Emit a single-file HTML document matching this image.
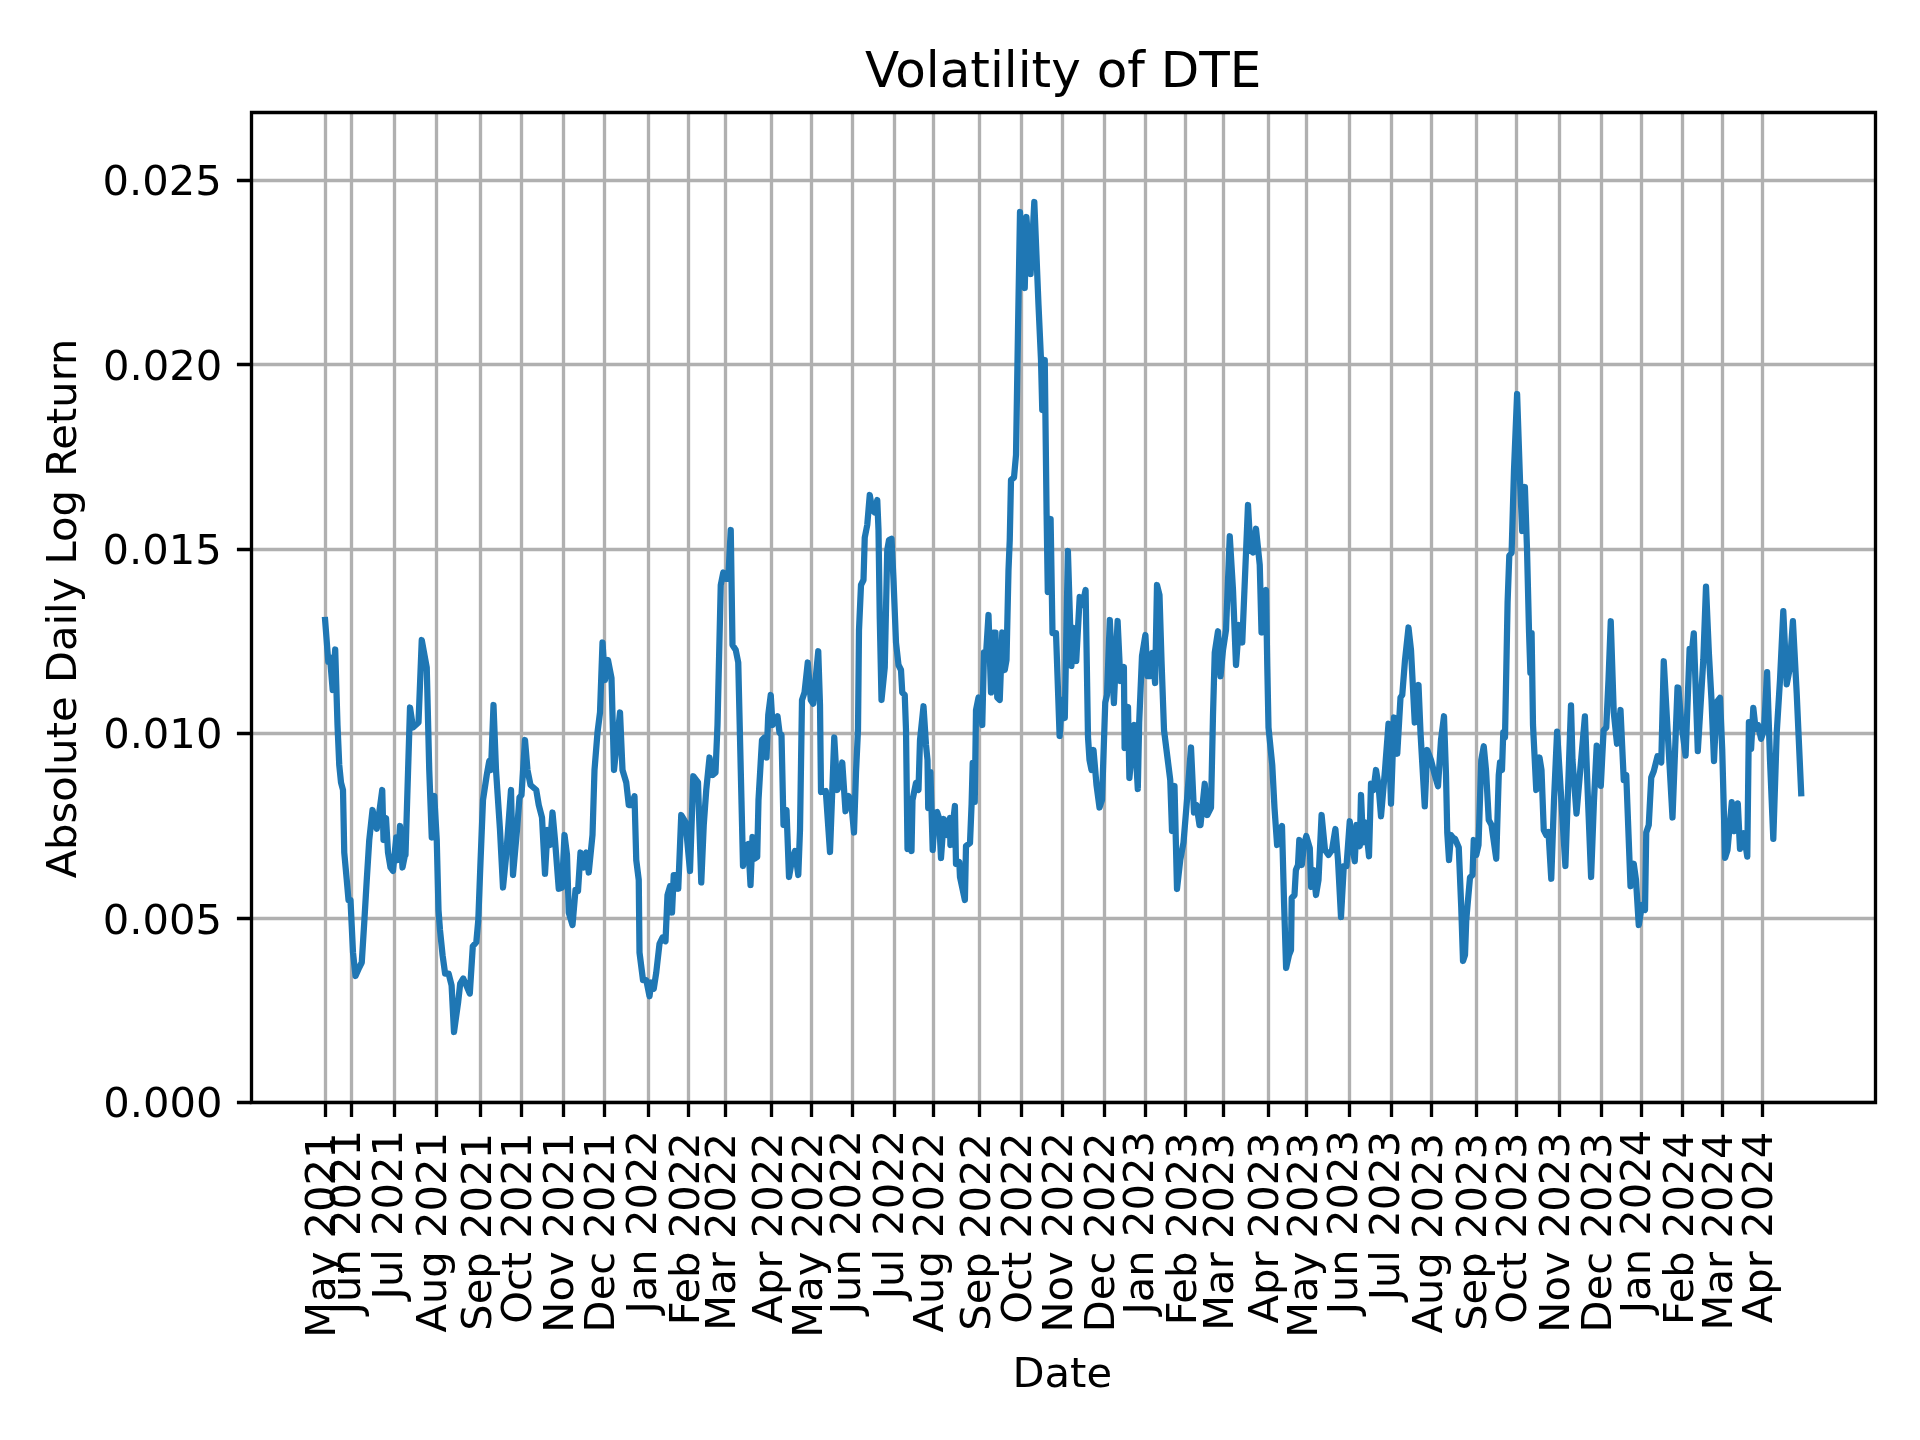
<!DOCTYPE html>
<html><head><meta charset="utf-8"><title>Volatility of DTE</title>
<style>html,body{margin:0;padding:0;background:#fff;width:1920px;height:1440px;overflow:hidden}svg{display:block;will-change:transform}
text{font-family:"DejaVu Sans","Liberation Sans",sans-serif;fill:#000}</style></head>
<body>
<svg width="1920" height="1440" viewBox="0 0 1920 1440">
<rect width="1920" height="1440" fill="#fff"/>
<defs><clipPath id="ax"><rect x="251.333" y="112.000" width="1623.667" height="990.040"/></clipPath></defs>
<path d="M325.5 1102.04V112.00M351.5 1102.04V112.00M394.5 1102.04V112.00M436.5 1102.04V112.00M480.5 1102.04V112.00M521.5 1102.04V112.00M563.5 1102.04V112.00M604.5 1102.04V112.00M648.5 1102.04V112.00M688.5 1102.04V112.00M725.5 1102.04V112.00M771.5 1102.04V112.00M811.5 1102.04V112.00M852.5 1102.04V112.00M894.5 1102.04V112.00M933.5 1102.04V112.00M979.5 1102.04V112.00M1021.5 1102.04V112.00M1062.5 1102.04V112.00M1104.5 1102.04V112.00M1145.5 1102.04V112.00M1185.5 1102.04V112.00M1223.5 1102.04V112.00M1268.5 1102.04V112.00M1306.5 1102.04V112.00M1349.5 1102.04V112.00M1391.5 1102.04V112.00M1431.5 1102.04V112.00M1476.5 1102.04V112.00M1516.5 1102.04V112.00M1559.5 1102.04V112.00M1601.5 1102.04V112.00M1641.5 1102.04V112.00M1682.5 1102.04V112.00M1722.5 1102.04V112.00M1762.5 1102.04V112.00M251.33 1102.5H1875.00M251.33 918.5H1875.00M251.33 733.5H1875.00M251.33 549.5H1875.00M251.33 364.5H1875.00M251.33 180.5H1875.00" clip-path="url(#ax)" fill="none" stroke="#b0b0b0" stroke-width="3.3333" stroke-linecap="square"/>
<path d="M325.10 620.00 L328.30 661.70 L330.00 657.50 L332.70 690.00 L335.20 649.50 L337.50 725.00 L339.25 765.00 L341.00 782.50 L343.00 790.00 L344.25 852.50 L346.75 880.00 L348.50 900.00 L350.50 900.00 L353.00 952.50 L355.50 976.00 L359.25 967.50 L361.75 962.50 L364.25 922.50 L366.75 880.00 L369.25 840.00 L372.50 810.00 L376.75 828.75 L379.25 812.50 L382.25 790.00 L383.50 840.00 L386.00 818.00 L388.00 852.50 L390.50 867.50 L393.00 871.00 L396.25 837.50 L398.00 860.00 L400.00 826.00 L402.50 867.50 L405.00 855.00 L405.50 855.00 L410.00 707.50 L413.00 727.50 L418.50 722.50 L421.75 640.00 L426.75 667.50 L429.25 770.00 L431.75 837.50 L434.25 796.00 L436.75 840.00 L438.50 910.00 L440.00 930.00 L442.60 955.40 L445.10 973.50 L448.60 973.50 L451.60 985.60 L454.00 1032.00 L458.20 1001.70 L460.20 983.60 L463.20 978.50 L466.80 986.60 L469.80 993.60 L472.80 946.30 L476.30 942.30 L478.30 920.00 L480.50 862.00 L483.00 800.00 L486.75 775.00 L489.25 761.00 L491.00 770.00 L493.50 705.00 L496.00 770.00 L500.00 830.00 L503.00 887.50 L506.00 857.50 L511.00 790.00 L513.00 875.00 L517.00 830.00 L519.50 797.50 L521.50 795.00 L525.00 740.00 L527.50 770.00 L530.50 785.00 L536.25 790.00 L538.75 805.00 L542.00 817.50 L545.00 873.75 L547.50 830.00 L550.00 845.00 L552.50 812.50 L555.00 840.00 L558.75 888.75 L562.00 887.50 L564.50 835.00 L567.00 855.00 L568.75 912.50 L572.50 925.00 L575.50 890.00 L578.00 891.00 L580.50 852.50 L583.75 867.50 L586.25 852.50 L588.75 872.50 L592.50 835.00 L594.50 770.00 L597.50 732.50 L600.00 712.50 L602.50 642.50 L605.00 680.00 L608.00 660.00 L611.50 678.00 L614.00 770.00 L620.00 712.50 L622.50 770.00 L626.25 782.50 L628.75 805.00 L631.50 805.00 L634.50 796.25 L636.25 860.00 L638.75 880.00 L639.50 952.50 L643.00 980.00 L646.25 980.00 L649.50 996.25 L651.25 982.50 L653.75 988.75 L656.25 972.50 L659.50 943.75 L662.50 937.50 L665.50 941.25 L667.50 895.00 L670.00 886.25 L672.00 912.50 L673.75 875.00 L676.00 875.00 L678.25 888.75 L681.25 815.00 L685.50 822.00 L690.00 871.00 L693.25 776.25 L698.00 782.50 L701.25 882.50 L703.75 825.00 L706.25 790.00 L709.50 757.50 L712.50 775.00 L715.50 772.50 L717.50 725.00 L720.75 585.00 L723.25 572.50 L725.75 578.75 L728.25 578.75 L730.75 530.00 L732.50 645.00 L735.75 650.00 L738.25 662.50 L740.75 770.00 L743.00 866.00 L745.80 846.00 L748.30 844.00 L750.50 885.00 L752.50 837.00 L754.20 859.00 L757.20 857.00 L758.50 800.00 L762.00 740.00 L764.50 737.50 L766.50 757.50 L768.25 715.00 L770.75 695.00 L772.50 725.00 L777.50 716.25 L779.50 732.50 L781.50 735.00 L783.50 825.00 L786.50 810.00 L789.00 877.00 L792.00 860.00 L795.00 851.00 L798.30 875.00 L800.00 830.00 L802.00 700.00 L804.50 692.50 L807.75 662.50 L810.75 700.00 L813.25 703.75 L818.25 651.25 L820.00 705.00 L821.00 792.00 L825.80 791.00 L830.00 852.00 L834.25 737.50 L837.25 790.00 L839.50 785.00 L842.25 762.50 L845.50 811.25 L848.50 796.00 L851.00 800.00 L854.00 832.50 L856.00 772.50 L858.00 730.00 L859.00 630.00 L861.00 585.00 L863.50 580.00 L864.75 537.50 L867.25 525.00 L869.75 495.00 L872.25 510.00 L874.75 512.50 L877.25 500.00 L878.50 530.00 L879.75 617.50 L881.50 700.00 L884.75 667.50 L887.25 550.00 L889.00 540.00 L891.50 538.75 L893.50 580.00 L896.00 642.50 L898.50 665.00 L901.00 670.00 L902.25 692.50 L904.75 695.00 L906.00 730.00 L907.50 849.00 L909.50 835.00 L911.50 851.00 L912.50 800.00 L916.00 783.00 L918.50 790.00 L920.00 740.00 L923.50 706.25 L926.00 745.00 L927.50 760.00 L928.20 808.00 L930.40 772.00 L932.70 850.00 L934.90 813.00 L937.10 812.00 L939.00 818.00 L941.00 858.00 L943.80 819.00 L947.00 835.00 L949.90 818.00 L950.40 845.00 L954.90 806.00 L956.00 864.00 L959.30 862.00 L960.00 877.00 L964.90 900.00 L966.00 846.00 L970.00 843.00 L971.60 804.00 L972.70 763.00 L974.75 802.00 L976.00 710.00 L978.50 697.50 L980.50 700.00 L982.25 725.00 L984.00 652.50 L986.00 655.00 L988.50 615.00 L991.00 692.50 L993.50 632.50 L995.50 632.50 L997.25 697.50 L999.75 700.00 L1002.25 632.50 L1004.75 670.00 L1006.50 660.00 L1008.50 570.00 L1009.75 540.00 L1011.00 480.00 L1014.00 477.50 L1016.00 455.00 L1018.00 330.00 L1020.00 212.00 L1024.75 288.00 L1026.40 217.00 L1030.60 274.00 L1034.30 202.00 L1038.50 305.00 L1041.00 360.00 L1042.25 410.00 L1044.75 360.00 L1046.60 514.00 L1047.80 592.00 L1050.60 519.00 L1052.50 633.00 L1056.00 633.00 L1059.60 736.00 L1062.00 700.00 L1064.80 718.00 L1067.90 551.00 L1071.40 666.00 L1073.80 628.00 L1076.20 661.00 L1079.70 597.00 L1082.50 605.00 L1085.60 590.00 L1088.00 737.00 L1089.50 760.00 L1091.50 770.00 L1093.50 750.00 L1096.50 785.00 L1099.50 807.50 L1102.00 800.00 L1105.25 702.50 L1107.00 695.00 L1109.80 620.00 L1113.90 703.00 L1117.60 621.00 L1120.40 681.00 L1123.90 667.00 L1124.60 748.00 L1128.00 707.00 L1129.40 778.00 L1134.30 725.00 L1137.80 789.00 L1139.20 722.00 L1142.00 656.00 L1145.40 635.00 L1147.50 676.00 L1150.30 676.00 L1152.40 653.00 L1155.10 683.00 L1157.00 585.00 L1159.50 595.00 L1161.50 660.00 L1164.00 730.00 L1167.75 760.00 L1170.25 780.00 L1172.00 831.00 L1174.50 786.00 L1177.00 889.00 L1180.25 860.00 L1183.50 842.50 L1187.00 800.00 L1191.00 747.50 L1194.00 812.50 L1196.50 805.00 L1199.50 825.00 L1200.50 825.00 L1204.75 783.75 L1207.25 815.00 L1211.00 807.50 L1213.00 715.00 L1214.75 652.50 L1218.00 631.25 L1220.50 676.25 L1223.00 650.00 L1226.00 630.00 L1229.75 536.25 L1233.00 590.00 L1236.00 665.00 L1239.00 625.00 L1242.25 642.50 L1248.00 505.00 L1250.50 550.00 L1253.00 552.50 L1256.00 528.75 L1259.75 565.00 L1261.50 632.50 L1264.00 600.00 L1266.00 590.00 L1267.25 665.00 L1268.50 727.50 L1272.25 765.00 L1274.50 808.00 L1277.10 845.00 L1280.00 830.00 L1282.00 826.00 L1284.00 901.00 L1286.10 968.00 L1289.00 955.00 L1291.00 950.00 L1291.70 898.00 L1294.50 895.00 L1295.90 870.00 L1298.00 865.00 L1299.30 840.00 L1301.80 865.00 L1304.00 845.00 L1306.30 836.00 L1309.80 848.00 L1311.10 887.00 L1313.50 870.00 L1316.00 895.00 L1318.50 880.00 L1321.60 815.00 L1325.00 850.00 L1328.50 855.00 L1332.00 850.00 L1335.40 829.00 L1338.00 860.00 L1341.00 917.00 L1343.80 866.00 L1346.50 866.00 L1349.75 821.25 L1352.00 845.00 L1354.75 861.25 L1356.50 825.00 L1359.75 846.25 L1361.00 795.00 L1363.00 842.50 L1365.50 822.50 L1369.00 856.25 L1371.00 783.75 L1373.50 790.00 L1376.00 770.00 L1378.50 785.00 L1381.00 816.25 L1385.00 770.00 L1388.50 723.75 L1391.00 803.75 L1394.00 717.50 L1397.25 753.75 L1400.50 697.50 L1402.25 695.00 L1405.00 660.00 L1408.50 627.50 L1411.00 650.00 L1414.75 722.50 L1418.50 685.00 L1420.50 732.50 L1424.75 806.25 L1427.25 750.00 L1431.00 760.00 L1434.75 775.00 L1438.00 786.25 L1441.00 740.00 L1444.00 716.25 L1446.00 775.00 L1447.25 832.50 L1449.00 860.00 L1451.00 835.00 L1454.75 840.00 L1452.50 837.50 L1455.00 838.75 L1458.75 847.50 L1461.25 907.50 L1463.00 961.00 L1465.00 955.00 L1466.25 920.00 L1470.00 877.50 L1472.50 875.00 L1473.75 840.00 L1476.25 855.00 L1478.50 845.00 L1481.25 760.00 L1483.75 746.25 L1486.00 770.00 L1488.75 820.00 L1491.50 825.00 L1496.25 858.75 L1498.75 775.00 L1500.00 762.50 L1502.00 770.00 L1503.25 732.50 L1505.00 737.50 L1507.60 602.00 L1509.30 555.50 L1511.60 553.00 L1514.00 470.00 L1517.10 394.00 L1520.00 480.00 L1522.20 531.00 L1524.90 487.00 L1527.00 549.00 L1529.00 631.00 L1530.40 673.00 L1531.60 633.00 L1533.00 725.00 L1536.25 790.00 L1539.50 757.50 L1541.50 770.00 L1543.75 830.00 L1546.25 835.00 L1548.50 832.00 L1551.25 878.75 L1554.00 800.00 L1557.10 731.70 L1565.40 866.00 L1571.00 705.30 L1572.50 760.00 L1576.50 813.60 L1584.90 716.40 L1588.00 800.00 L1591.10 877.00 L1594.00 800.00 L1596.70 745.60 L1598.50 750.00 L1600.80 785.80 L1603.60 730.30 L1606.25 727.50 L1608.50 680.00 L1610.75 621.25 L1613.75 712.50 L1617.00 743.75 L1620.50 710.00 L1623.75 780.00 L1626.25 775.00 L1630.50 886.25 L1633.75 863.75 L1636.00 880.00 L1638.75 925.00 L1642.00 905.00 L1645.00 910.00 L1646.25 832.50 L1648.75 825.00 L1651.25 777.50 L1653.75 771.25 L1657.50 756.25 L1661.25 762.50 L1663.75 661.25 L1667.00 720.00 L1672.50 817.50 L1677.50 687.50 L1678.40 687.80 L1681.00 720.00 L1685.60 755.60 L1689.60 648.90 L1691.50 655.00 L1693.80 633.30 L1697.80 751.10 L1703.30 660.00 L1706.00 586.70 L1708.90 653.30 L1711.50 700.00 L1714.00 761.10 L1716.70 702.20 L1720.00 697.80 L1722.20 748.90 L1725.10 857.80 L1727.50 850.00 L1731.80 802.20 L1734.40 831.10 L1737.80 803.30 L1740.00 848.90 L1743.80 833.30 L1747.30 856.70 L1748.90 722.20 L1751.10 748.90 L1753.30 707.80 L1755.60 728.90 L1758.00 725.00 L1761.10 738.90 L1764.00 730.00 L1767.10 672.20 L1770.00 760.00 L1773.30 838.90 L1776.70 733.30 L1780.00 680.00 L1783.30 611.10 L1786.70 684.40 L1789.50 670.00 L1792.90 621.10 L1796.70 693.30 L1801.20 793.30" clip-path="url(#ax)" fill="none" stroke="#1f77b4" stroke-width="6.2500" stroke-linecap="square" stroke-linejoin="round"/>
<path d="M251.5 1102.5V112.5M1875.5 1102.5V112.5M251.5 1102.5H1875.5M251.5 112.5H1875.5" fill="none" stroke="#000" stroke-width="3.3333" stroke-linecap="square" stroke-linejoin="miter"/>
<path d="M325.5 1102.5v14.583M351.5 1102.5v14.583M394.5 1102.5v14.583M436.5 1102.5v14.583M480.5 1102.5v14.583M521.5 1102.5v14.583M563.5 1102.5v14.583M604.5 1102.5v14.583M648.5 1102.5v14.583M688.5 1102.5v14.583M725.5 1102.5v14.583M771.5 1102.5v14.583M811.5 1102.5v14.583M852.5 1102.5v14.583M894.5 1102.5v14.583M933.5 1102.5v14.583M979.5 1102.5v14.583M1021.5 1102.5v14.583M1062.5 1102.5v14.583M1104.5 1102.5v14.583M1145.5 1102.5v14.583M1185.5 1102.5v14.583M1223.5 1102.5v14.583M1268.5 1102.5v14.583M1306.5 1102.5v14.583M1349.5 1102.5v14.583M1391.5 1102.5v14.583M1431.5 1102.5v14.583M1476.5 1102.5v14.583M1516.5 1102.5v14.583M1559.5 1102.5v14.583M1601.5 1102.5v14.583M1641.5 1102.5v14.583M1682.5 1102.5v14.583M1722.5 1102.5v14.583M1762.5 1102.5v14.583M251.5 1102.5h-14.583M251.5 918.5h-14.583M251.5 733.5h-14.583M251.5 549.5h-14.583M251.5 364.5h-14.583M251.5 180.5h-14.583" fill="none" stroke="#000" stroke-width="3.3333"/>
<text x="335.11" y="1337.81" font-size="41.667" transform="rotate(-90 335.11 1337.81)">May 2021</text>
<text x="359.87" y="1314.30" font-size="41.667" transform="rotate(-90 359.87 1314.30)">Jun 2021</text>
<text x="402.42" y="1299.38" font-size="41.667" transform="rotate(-90 402.42 1299.38)">Jul 2021</text>
<text x="446.08" y="1332.58" font-size="41.667" transform="rotate(-90 446.08 1332.58)">Aug 2021</text>
<text x="490.66" y="1330.81" font-size="41.667" transform="rotate(-90 490.66 1330.81)">Sep 2021</text>
<text x="531.26" y="1323.83" font-size="41.667" transform="rotate(-90 531.26 1323.83)">Oct 2021</text>
<text x="572.87" y="1332.67" font-size="41.667" transform="rotate(-90 572.87 1332.67)">Nov 2021</text>
<text x="614.48" y="1332.43" font-size="41.667" transform="rotate(-90 614.48 1332.43)">Dec 2021</text>
<text x="656.07" y="1313.44" font-size="41.667" transform="rotate(-90 656.07 1313.44)">Jan 2022</text>
<text x="698.68" y="1325.27" font-size="41.667" transform="rotate(-90 698.68 1325.27)">Feb 2022</text>
<text x="735.34" y="1330.73" font-size="41.667" transform="rotate(-90 735.34 1330.73)">Mar 2022</text>
<text x="781.90" y="1323.45" font-size="41.667" transform="rotate(-90 781.90 1323.45)">Apr 2022</text>
<text x="821.54" y="1337.73" font-size="41.667" transform="rotate(-90 821.54 1337.73)">May 2022</text>
<text x="860.15" y="1314.21" font-size="41.667" transform="rotate(-90 860.15 1314.21)">Jun 2022</text>
<text x="902.72" y="1299.29" font-size="41.667" transform="rotate(-90 902.72 1299.29)">Jul 2022</text>
<text x="943.40" y="1332.49" font-size="41.667" transform="rotate(-90 943.40 1332.49)">Aug 2022</text>
<text x="989.95" y="1330.74" font-size="41.667" transform="rotate(-90 989.95 1330.74)">Sep 2022</text>
<text x="1030.55" y="1323.74" font-size="41.667" transform="rotate(-90 1030.55 1323.74)">Oct 2022</text>
<text x="1072.17" y="1332.58" font-size="41.667" transform="rotate(-90 1072.17 1332.58)">Nov 2022</text>
<text x="1113.77" y="1332.27" font-size="41.667" transform="rotate(-90 1113.77 1332.27)">Dec 2022</text>
<text x="1153.37" y="1314.52" font-size="41.667" transform="rotate(-90 1153.37 1314.52)">Jan 2023</text>
<text x="1195.98" y="1325.35" font-size="41.667" transform="rotate(-90 1195.98 1325.35)">Feb 2023</text>
<text x="1232.64" y="1330.82" font-size="41.667" transform="rotate(-90 1232.64 1330.82)">Mar 2023</text>
<text x="1278.20" y="1323.54" font-size="41.667" transform="rotate(-90 1278.20 1323.54)">Apr 2023</text>
<text x="1316.86" y="1337.82" font-size="41.667" transform="rotate(-90 1316.86 1337.82)">May 2023</text>
<text x="1357.45" y="1314.30" font-size="41.667" transform="rotate(-90 1357.45 1314.30)">Jun 2023</text>
<text x="1399.02" y="1300.37" font-size="41.667" transform="rotate(-90 1399.02 1300.37)">Jul 2023</text>
<text x="1441.70" y="1333.57" font-size="41.667" transform="rotate(-90 1441.70 1333.57)">Aug 2023</text>
<text x="1486.26" y="1330.82" font-size="41.667" transform="rotate(-90 1486.26 1330.82)">Sep 2023</text>
<text x="1525.87" y="1323.83" font-size="41.667" transform="rotate(-90 1525.87 1323.83)">Oct 2023</text>
<text x="1569.47" y="1332.67" font-size="41.667" transform="rotate(-90 1569.47 1332.67)">Nov 2023</text>
<text x="1611.07" y="1332.42" font-size="41.667" transform="rotate(-90 1611.07 1332.42)">Dec 2023</text>
<text x="1649.65" y="1313.14" font-size="41.667" transform="rotate(-90 1649.65 1313.14)">Jan 2024</text>
<text x="1693.25" y="1324.98" font-size="41.667" transform="rotate(-90 1693.25 1324.98)">Feb 2024</text>
<text x="1731.89" y="1330.43" font-size="41.667" transform="rotate(-90 1731.89 1330.43)">Mar 2024</text>
<text x="1772.50" y="1323.15" font-size="41.667" transform="rotate(-90 1772.50 1323.15)">Apr 2024</text>
<text x="1062.27" y="1386.97" font-size="41.667" text-anchor="middle">Date</text>
<text x="222.47" y="1117.36" font-size="41.667" text-anchor="end">0.000</text>
<text x="221.91" y="933.95" font-size="41.667" text-anchor="end">0.005</text>
<text x="222.40" y="748.46" font-size="41.667" text-anchor="end">0.010</text>
<text x="221.77" y="564.05" font-size="41.667" text-anchor="end">0.015</text>
<text x="222.34" y="379.62" font-size="41.667" text-anchor="end">0.020</text>
<text x="221.74" y="195.21" font-size="41.667" text-anchor="end">0.025</text>
<text x="75.60" y="608.46" font-size="41.667" text-anchor="middle" transform="rotate(-90 75.60 608.46)">Absolute Daily Log Return</text>
<text x="1063.17" y="87.00" font-size="50.000" text-anchor="middle">Volatility of DTE</text>
</svg>
</body></html>
